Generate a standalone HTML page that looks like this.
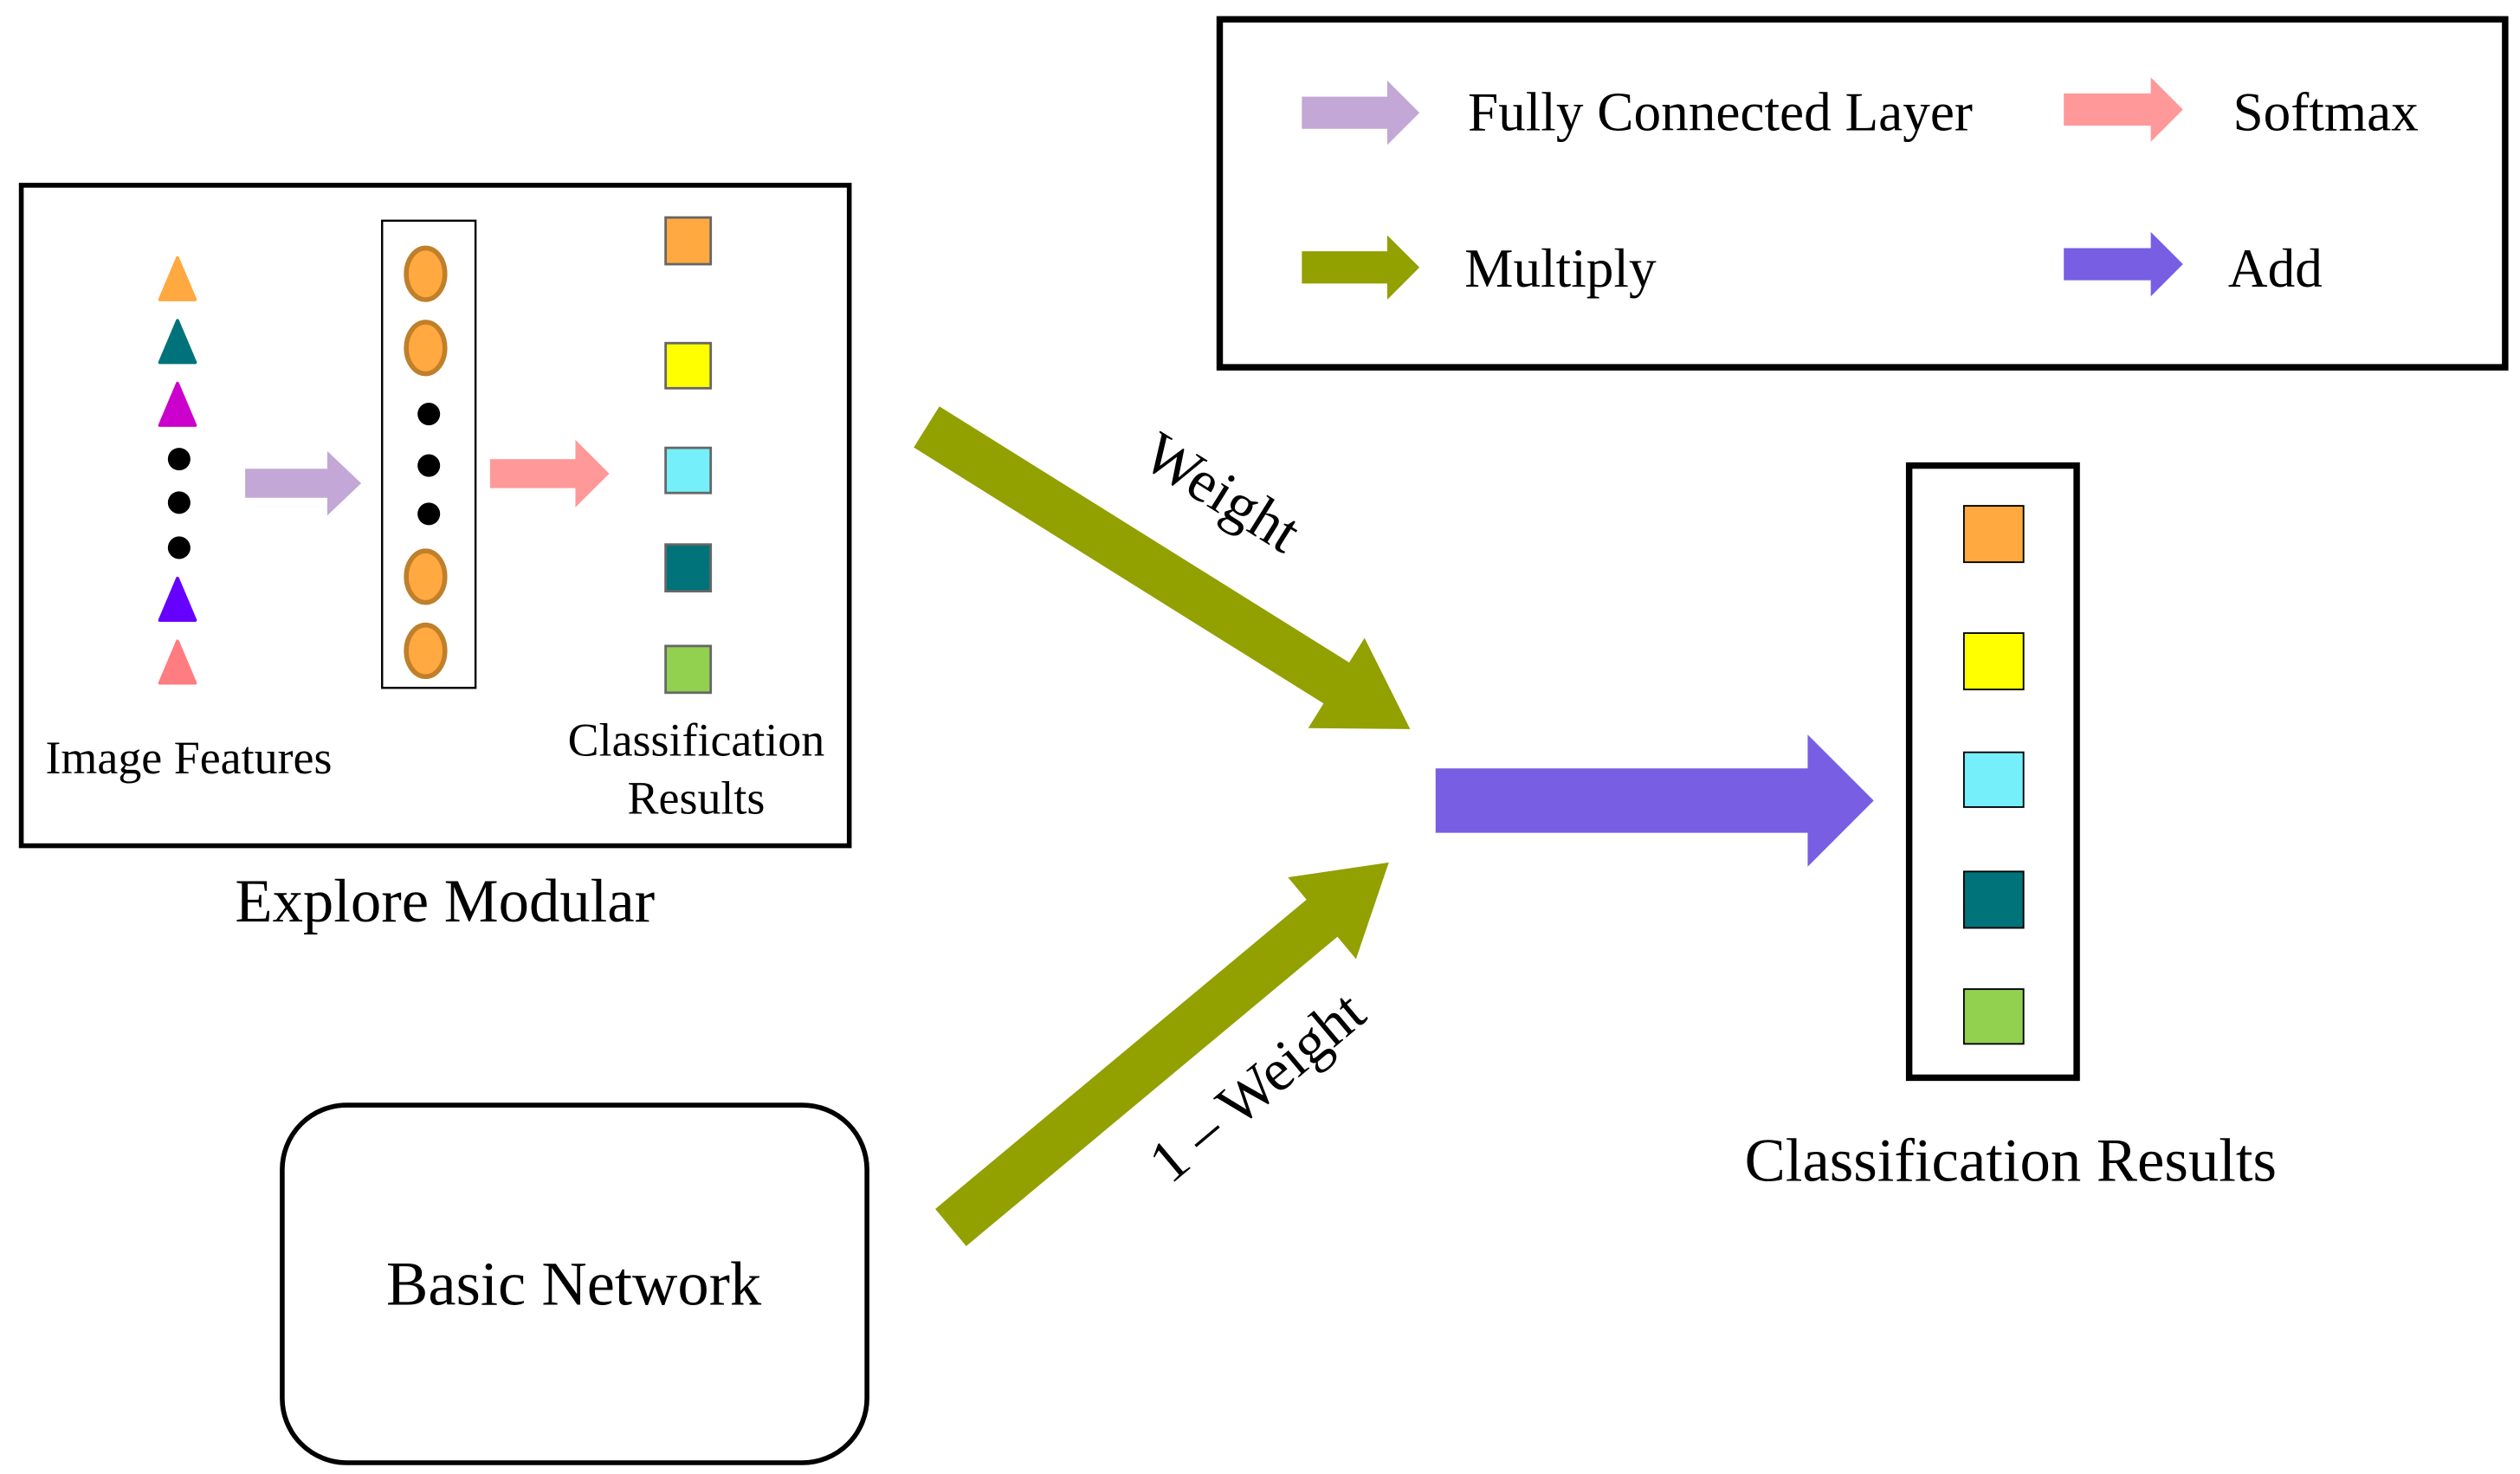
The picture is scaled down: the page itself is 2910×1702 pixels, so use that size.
<!DOCTYPE html>
<html><head><meta charset="utf-8"><style>html,body{margin:0;padding:0;background:#fff}svg{display:block}text{font-family:"Liberation Serif",serif;fill:#000}</style></head>
<body>
<svg width="2910" height="1702" viewBox="0 0 1564 915" xmlns="http://www.w3.org/2000/svg">
<rect width="1564" height="915" fill="#fff"/>
<!-- Explore box -->
<rect x="13" y="115" width="514" height="410" fill="none" stroke="#000" stroke-width="3"/>
<g>
<path d="M110 160 L121 186 L99 186 Z" fill="#FFA940" stroke="#FFA940" stroke-linejoin="round" stroke-width="2"/>
<path d="M110 199 L121 225 L99 225 Z" fill="#00737A" stroke="#00737A" stroke-linejoin="round" stroke-width="2"/>
<path d="M110 238 L121 264 L99 264 Z" fill="#CC00CC" stroke="#CC00CC" stroke-linejoin="round" stroke-width="2"/>
<circle cx="111" cy="285" r="7"/><circle cx="111" cy="312" r="7"/><circle cx="111" cy="340" r="7"/>
<path d="M110 359 L121 385 L99 385 Z" fill="#6600FF" stroke="#6600FF" stroke-linejoin="round" stroke-width="2"/>
<path d="M110 398 L121 424 L99 424 Z" fill="#FF7C80" stroke="#FF7C80" stroke-linejoin="round" stroke-width="2"/>
</g>
<rect x="237" y="137" width="58" height="290" fill="none" stroke="#000" stroke-width="1.3"/>
<g fill="#FFA940" stroke="#C07F2A" stroke-width="3">
<ellipse cx="264" cy="170" rx="12" ry="16"/><ellipse cx="264" cy="216" rx="12" ry="16"/>
<ellipse cx="264" cy="358" rx="12" ry="16"/><ellipse cx="264" cy="404" rx="12" ry="16"/>
</g>
<circle cx="266" cy="257" r="7"/><circle cx="266" cy="289" r="7"/><circle cx="266" cy="319" r="7"/>
<polygon points="152,291 203,291 203,280 224,300 203,320 203,309 152,309" fill="#C3A7D6"/>
<polygon points="304,285 357,285 357,273 378,294 357,315 357,303 304,303" fill="#FF9999"/>
<g stroke="#666" stroke-width="1.5">
<rect x="413" y="135" width="28" height="29" fill="#FFA940"/>
<rect x="413" y="213" width="28" height="28" fill="#FFFF00"/>
<rect x="413" y="278" width="28" height="28" fill="#75F0FA"/>
<rect x="413" y="338" width="28" height="29" fill="#00727A"/>
<rect x="413" y="401" width="28" height="29" fill="#92D050"/>
</g>
<text x="28" y="480" font-size="29">Image Features</text>
<text x="432" y="469" font-size="29" text-anchor="middle">Classification</text>
<text x="432" y="505" font-size="29" text-anchor="middle">Results</text>
<text x="276" y="572" font-size="38" text-anchor="middle">Explore Modular</text>
<!-- Legend -->
<rect x="757" y="12" width="798" height="216" fill="none" stroke="#000" stroke-width="4"/>
<polygon points="808,60 861,60 861,50 881,70 861,90 861,80 808,80" fill="#C3A7D6"/>
<polygon points="1281,58 1335,58 1335,48 1355,68 1335,88 1335,78 1281,78" fill="#FF9999"/>
<polygon points="808,156 861,156 861,146 881,166 861,186 861,176 808,176" fill="#92A000"/>
<polygon points="1281,154 1335,154 1335,144 1355,164 1335,184 1335,174 1281,174" fill="#775EE3"/>
<text x="911" y="81" font-size="34">Fully Connected Layer</text>
<text x="1386" y="81" font-size="34">Softmax</text>
<text x="909" y="178" font-size="34">Multiply</text>
<text x="1383" y="178" font-size="34">Add</text>
<!-- Weight arrows -->
<g transform="translate(575,265) rotate(32)">
<polygon points="0,-15 300,-15 300,-33 354,0 300,33 300,15 0,15" fill="#92A000"/>
</g>
<g transform="translate(590,762) rotate(-39.8)">
<polygon points="0,-15 300,-15 300,-33 354,0 300,33 300,15 0,15" fill="#92A000"/>
</g>
<text transform="translate(752,316) rotate(32)" font-size="37" text-anchor="middle">Weight</text>
<text transform="translate(788,684) rotate(-40)" font-size="37" text-anchor="middle">1 – Weight</text>
<!-- Add arrow -->
<polygon points="891,477 1122,477 1122,456 1163,497 1122,538 1122,517 891,517" fill="#775EE3"/>
<!-- Result box -->
<rect x="1185" y="289" width="104" height="380" fill="none" stroke="#000" stroke-width="4"/>
<g stroke="#000" stroke-width="1">
<rect x="1219" y="314" width="37" height="35" fill="#FFA940"/>
<rect x="1219" y="393" width="37" height="35" fill="#FFFF00"/>
<rect x="1219" y="467" width="37" height="34" fill="#75F0FA"/>
<rect x="1219" y="541" width="37" height="35" fill="#00727A"/>
<rect x="1219" y="614" width="37" height="34" fill="#92D050"/>
</g>
<text x="1248" y="733" font-size="38" text-anchor="middle">Classification Results</text>
<!-- Basic network -->
<rect x="175" y="686" width="363" height="222" rx="40" ry="40" fill="none" stroke="#000" stroke-width="3"/>
<text x="356" y="810" font-size="39" text-anchor="middle">Basic Network</text>
</svg>
</body></html>
